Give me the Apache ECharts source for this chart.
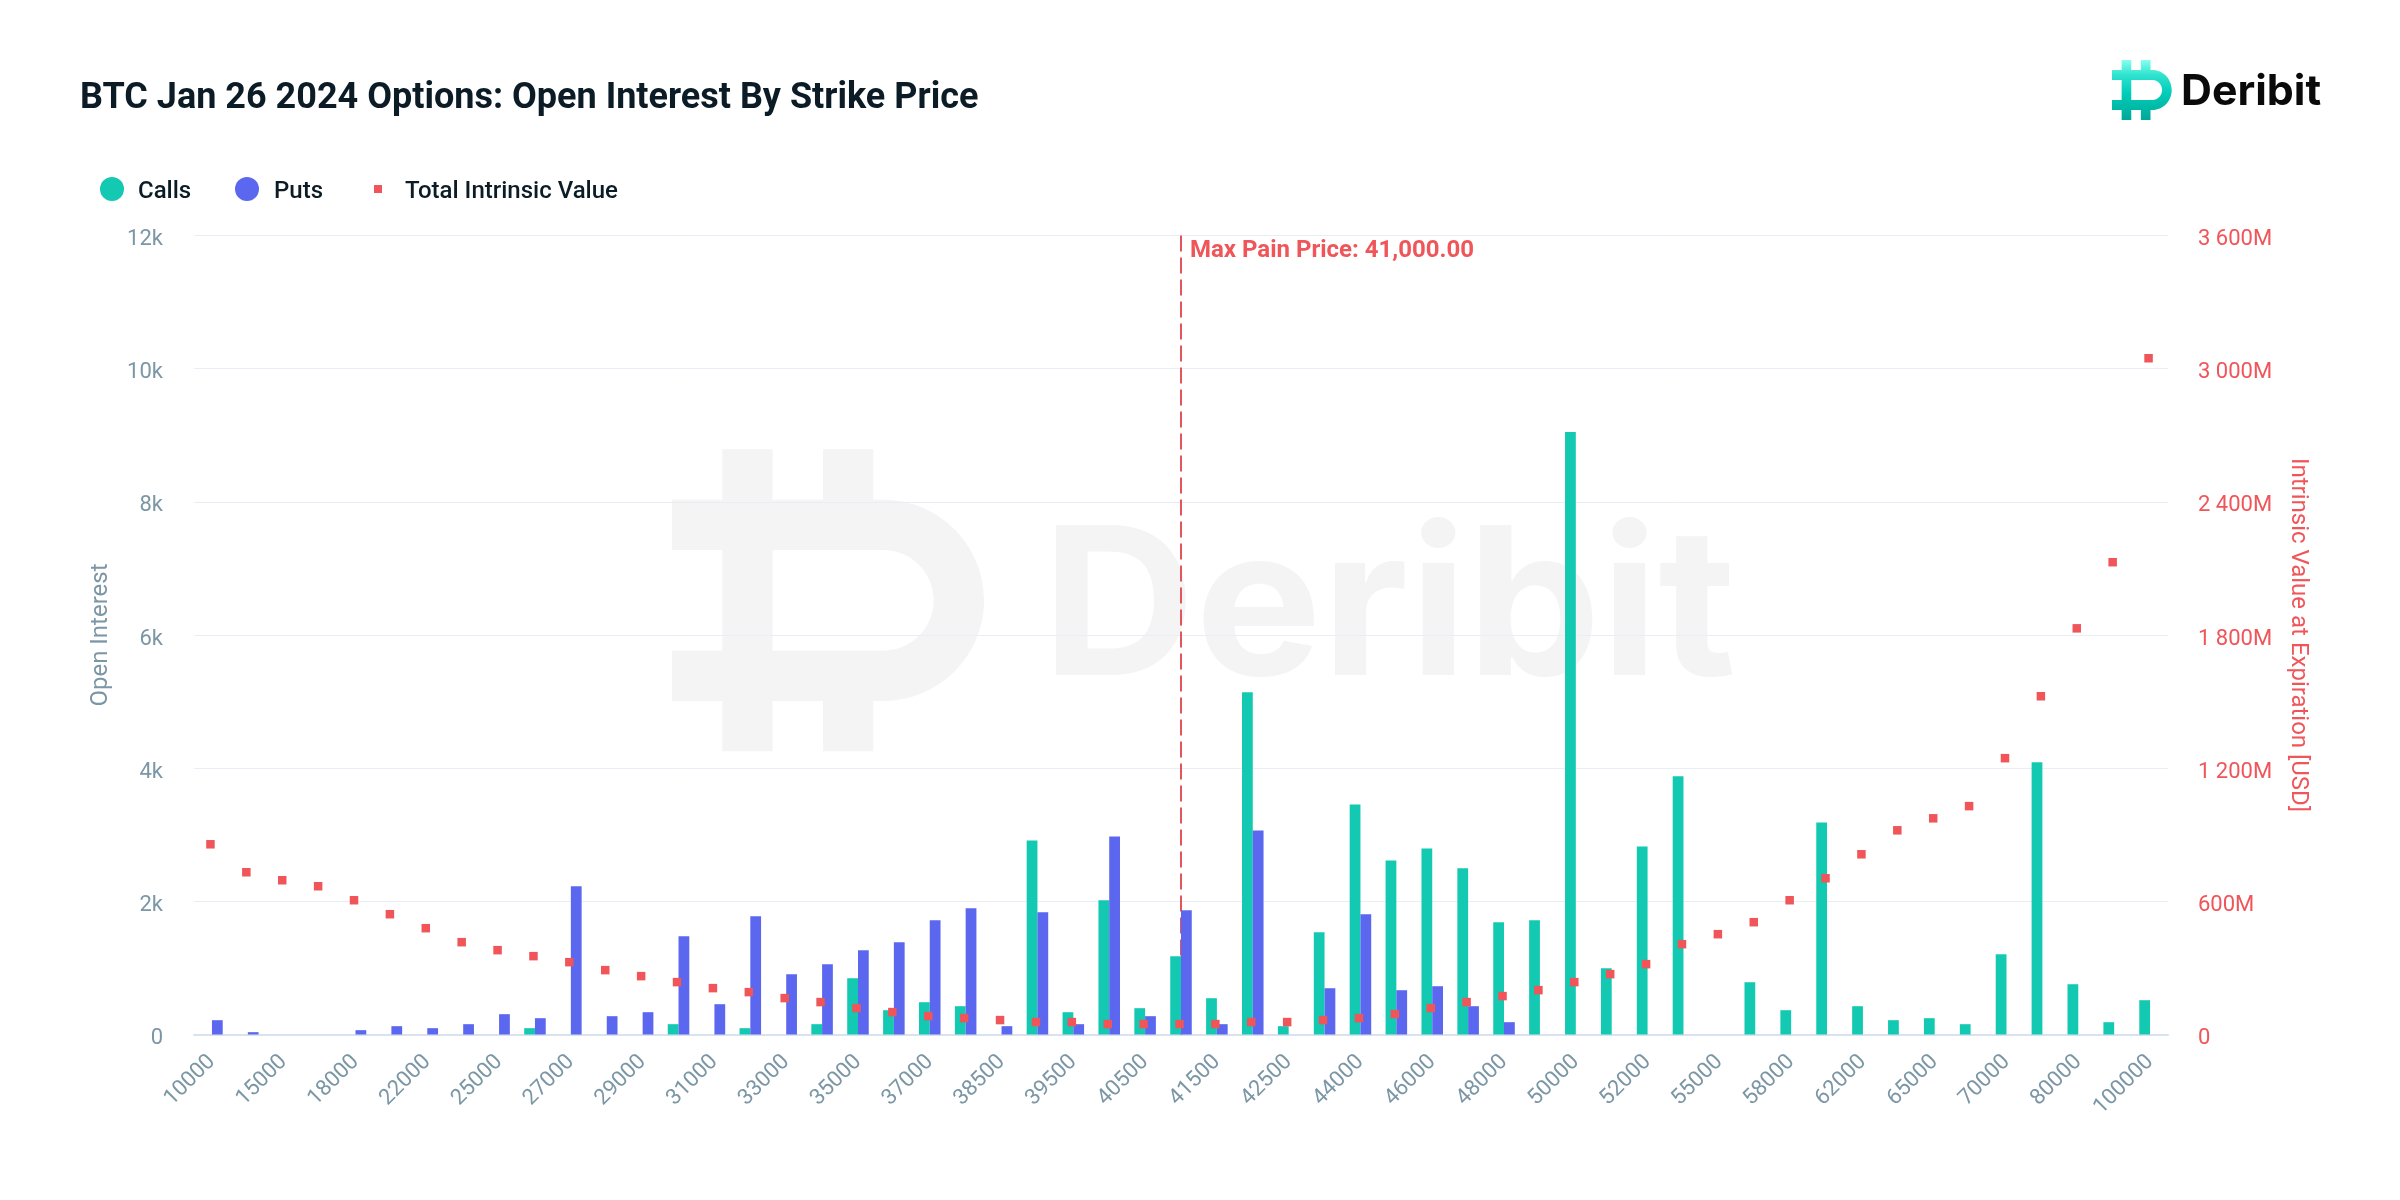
<!DOCTYPE html>
<html><head><meta charset="utf-8">
<style>html,body{margin:0;padding:0;background:#fff}#c{width:2400px;height:1200px}</style>
<script src="https://cdn.jsdelivr.net/npm/echarts@6/dist/echarts.min.js"></script>
</head><body><div id="c"></div>
<script>
const strikes = ['10000','12000','15000','16000','18000','20000','22000','24000','25000','26000','27000','28000','29000','30000','31000','32000','33000','34000','35000','36000','37000','38000','38500','39000','39500','40000','40500','41000','41500','42000','42500','43000','44000','45000','46000','47000','48000','49000','50000','51000','52000','54000','55000','56000','58000','60000','62000','64000','65000','68000','70000','75000','80000','90000','100000'];
const calls = [0,0,0,0,0,0,0,0,0,95,0,0,0,155,0,95,0,155,845,365,485,425,0,2915,335,2015,395,1175,545,5141,125,1535,3455,2615,2795,2495,1685,1715,9047,995,2825,3880,0,785,365,3185,425,215,245,155,1205,4090,755,185,515];
const puts = [215,35,0,0,65,125,95,155,305,245,2225,275,335,1475,455,1775,905,1055,1265,1385,1715,1895,125,1835,155,2975,275,1865,155,3065,0,695,1805,665,725,425,185,0,0,0,0,0,0,0,0,0,0,0,0,0,0,0,0,0,0];
const intrinsic = [857,731,695,668,605,542,479,416,380,353,326,290,263,236,209,191,164,146,119,101,83,74,65,56,56,47,47,47,47,56,56,65,74,92,119,146,173,200,236,272,317,407,452,506,605,704,812,920,974,1029,1245,1524,1830,2128,3047];
const maxPainStrike = '41000';
const titleText = 'BTC Jan 26 2024 Options: Open Interest By Strike Price';
const maxPainLabel = 'Max Pain Price: 41,000.00';

const TEAL='#14c9b2', BLUE='#5a67ee', RED='#ef5559', GREY='#7b96a5', DARK='#0b1c26';
const FONT='Roboto';
const logoGrad={type:'linear',x:0,y:0,x2:0,y2:1,colorStops:[{offset:0,color:'#86fff0'},{offset:.25,color:'#2fe3cf'},{offset:.55,color:'#00cdb8'},{offset:1,color:'#00a899'}]};
const legendRich={a:{fontFamily:FONT,fontWeight:500,fontSize:24,color:DARK,padding:[6,0,0,0]}};

echarts.graphic.registerShape('deribitIcon',echarts.graphic.extendShape({
  type:'deribitIcon',
  shape:{x:0,y:0,width:620,height:600},
  buildPath(ctx,s){
    const X=v=>s.x+v*s.width/620, Y=v=>s.y+v*s.height/600;
    const M=(a,b)=>ctx.moveTo(X(a),Y(b)), L=(a,b)=>ctx.lineTo(X(a),Y(b));
    const C=(a,b,c,d,e,f)=>ctx.bezierCurveTo(X(a),Y(b),X(c),Y(d),X(e),Y(f));
    const k=.5523;
    M(100,0);L(200,0);L(200,100);L(300,100);L(300,0);L(400,0);L(400,100);L(420,100);
    C(420+200*k,100,620,300-200*k,620,300);C(620,300+200*k,420+200*k,500,420,500);
    L(400,500);L(400,600);L(300,600);L(300,500);L(200,500);L(200,600);L(100,600);L(100,500);L(0,500);L(0,400);L(100,400);L(100,200);L(0,200);L(0,100);L(100,100);ctx.closePath();
    M(200,200);L(200,400);L(420,400);C(420+100*k,400,520,300+100*k,520,300);C(520,300-100*k,420+100*k,200,420,200);ctx.closePath();
  }
}));

const chart=echarts.init(document.getElementById('c'),null,{renderer:'canvas',width:2400,height:1200,devicePixelRatio:1});
chart.setOption({
  animation:false,
  backgroundColor:'#fff',
  title:{text:titleText,left:75,top:76,textStyle:{fontFamily:FONT,fontWeight:700,fontSize:36,color:DARK}},
  legend:[
    {data:['Calls'],left:100,top:177,icon:'circle',itemWidth:24,itemHeight:24,selectedMode:false,padding:0,formatter:'{a|{name}}',
     textStyle:{fontFamily:FONT,fontWeight:500,fontSize:24,color:DARK,padding:[0,0,0,9],rich:legendRich}},
    {data:['Puts'],left:235,top:177,icon:'circle',itemWidth:24,itemHeight:24,selectedMode:false,padding:0,formatter:'{a|{name}}',
     textStyle:{fontFamily:FONT,fontWeight:500,fontSize:24,color:DARK,padding:[0,0,0,10],rich:legendRich}},
    {data:['Total Intrinsic Value'],left:374,top:180,icon:'rect',itemWidth:8,itemHeight:8,selectedMode:false,padding:0,formatter:'{a|{name}}',
     textStyle:{fontFamily:FONT,fontWeight:500,fontSize:24,color:DARK,padding:[0,0,0,18],rich:legendRich}}
  ],
  grid:{left:194,top:235.5,width:1974,height:799,containLabel:false},
  xAxis:{type:'category',data:strikes,boundaryGap:true,
    axisTick:{show:false},
    axisLine:{lineStyle:{color:'#d9e3ef',width:2}},
    axisLabel:{interval:1,rotate:45,margin:24,fontFamily:FONT,fontSize:22,color:GREY}},
  yAxis:[
    {type:'value',min:0,max:12000,interval:2000,name:'Open Interest',nameLocation:'middle',nameGap:81,
     nameTextStyle:{fontFamily:FONT,fontSize:24,color:GREY},
     axisLine:{show:false},axisTick:{show:false},
     splitLine:{lineStyle:{color:'#e9edf5',width:1}},
     axisLabel:{margin:31,verticalAlign:'top',lineHeight:8,fontFamily:FONT,fontSize:22,color:GREY,formatter:v=>v===0?'0':(v/1000)+'k'}},
    {type:'value',min:0,max:3600,interval:600,name:'Intrinsic Value at Expiration [USD]',nameLocation:'middle',nameGap:118,nameRotate:-90,
     nameTextStyle:{fontFamily:FONT,fontSize:24,color:RED},
     axisLine:{show:false},axisTick:{show:false},splitLine:{show:false},
     axisLabel:{margin:30,verticalAlign:'top',lineHeight:8,align:'left',fontFamily:FONT,fontSize:22,color:RED,
       formatter:v=>{if(v===0)return '0';const s=String(v);return (s.length>3?s.slice(0,-3)+' '+s.slice(-3):s)+'M';}}}
  ],
  graphic:[
    {type:'deribitIcon',z:-1,silent:true,shape:{x:672,y:449.3,width:312,height:302},style:{fill:'#f4f4f5'}},
    {type:'text',z:-1,silent:true,x:1042,y:613,scaleX:1.03,style:{x:0,y:0,text:'Deribit',fontFamily:'Inter',fontWeight:700,fontSize:206,fill:'#f4f4f5',textVerticalAlign:'middle'}},
    {type:'deribitIcon',silent:true,shape:{x:2112,y:60,width:59.7,height:60},style:{fill:logoGrad}},
    {type:'text',silent:true,x:2181,y:92,scaleX:1.02,style:{x:0,y:0,text:'Deribit',fontFamily:'Inter',fontWeight:700,fontSize:42,fill:'#0a0a0a',textVerticalAlign:'middle'}}
  ],
  series:[
    {name:'Calls',type:'bar',yAxisIndex:0,data:calls,barWidth:'30%',barGap:0,z:2,itemStyle:{color:TEAL}},
    {name:'Puts',type:'bar',yAxisIndex:0,data:puts,barWidth:'30%',barGap:0,z:2,itemStyle:{color:BLUE}},
    {name:'Total Intrinsic Value',type:'scatter',yAxisIndex:1,data:intrinsic,symbol:'rect',symbolSize:8.5,symbolOffset:[-1.5,0],z:4,itemStyle:{color:RED,opacity:1},
     markLine:{z:1,silent:true,symbol:['none','none'],animation:false,
       lineStyle:{color:'#e2555a',width:2,type:[16,6],opacity:1},
       label:{show:true,position:'start',formatter:maxPainLabel,fontFamily:FONT,fontWeight:700,fontSize:24,color:RED,align:'left',verticalAlign:'middle',offset:[9,20]},
       data:[[{coord:[maxPainStrike,3600]},{coord:[maxPainStrike,0]}]]}}
  ]
});
</script></body></html>
